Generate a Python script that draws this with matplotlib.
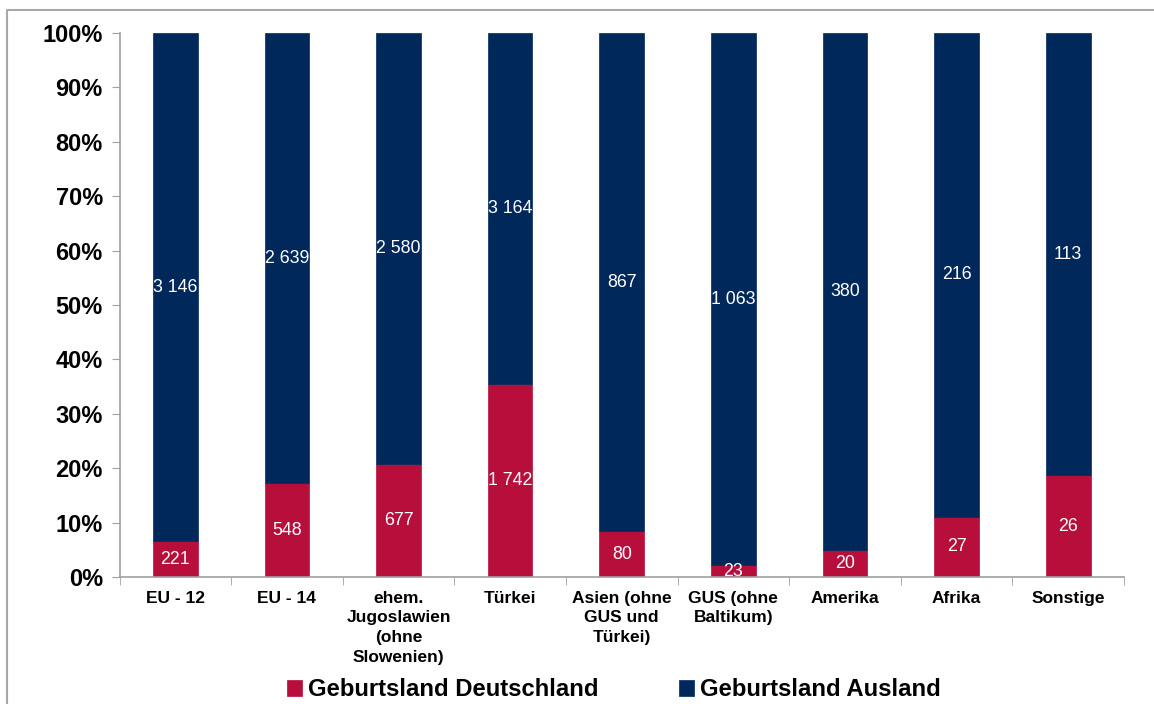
import matplotlib
matplotlib.use("Agg")
import matplotlib.pyplot as plt
import numpy as np
from matplotlib.lines import Line2D

categories = ["EU - 12", "EU - 14", "ehem.\nJugoslawien\n(ohne\nSlowenien)", "Türkei",
              "Asien (ohne\nGUS und\nTürkei)", "GUS (ohne\nBaltikum)", "Amerika", "Afrika", "Sonstige"]
deutschland = [221, 548, 677, 1742, 80, 23, 20, 27, 26]
ausland = [3146, 2639, 2580, 3164, 867, 1063, 380, 216, 113]
deutschland_labels = ["221", "548", "677", "1 742", "80", "23", "20", "27", "26"]
ausland_labels = ["3 146", "2 639", "2 580", "3 164", "867", "1 063", "380", "216", "113"]
series_names = ["Geburtsland Deutschland", "Geburtsland Ausland"]

red = "#B70E3B"
navy = "#00285A"

plt.rcParams['font.family'] = ['Liberation Sans', 'DejaVu Sans']

fig = plt.figure(figsize=(11.54, 7.04), dpi=100)
ax = fig.add_axes([119.5/1154, 1-577/704, (1124-119.5)/1154, (577-33)/704])

d = np.array(deutschland, float)
a = np.array(ausland, float)
tot = d + a
dp = d / tot
ap = a / tot
x = np.arange(len(categories))
w = 0.4
ax.bar(x, dp, w, color=red, label=series_names[0], edgecolor=red, linewidth=0.5)
ax.bar(x, ap, w, bottom=dp, color=navy, label=series_names[1], edgecolor=navy, linewidth=0.5)

for i in range(len(x)):
    ax.text(x[i], dp[i]/2, deutschland_labels[i], ha='center', va='center', color='white', fontsize=12.8)
    ax.text(x[i], dp[i] + ap[i]/2, ausland_labels[i], ha='center', va='center', color='white', fontsize=12.8)

ax.set_xlim(-0.5, len(x)-0.5)
ax.set_ylim(0, 1)
ax.set_yticks(np.arange(0, 1.01, 0.1))
ax.set_yticklabels([f"{int(round(v*100))}%" for v in np.arange(0, 1.01, 0.1)], fontsize=17, fontweight='bold')
ax.set_xticks(x)
ax.set_xticklabels(categories, fontsize=12.5, fontweight='bold', va='top', linespacing=1.38)
ax.set_xticks(np.arange(-0.5, len(x), 1), minor=True)
ax.tick_params(axis='x', which='major', length=0, pad=10)
ax.tick_params(axis='x', which='minor', length=6, color='#A0A0A0', direction='out')
ax.tick_params(axis='y', length=6, color='#A0A0A0', direction='out', pad=6)
for s in ['top', 'right']:
    ax.spines[s].set_visible(False)
for s in ['left', 'bottom']:
    ax.spines[s].set_color('#A0A0A0')
    ax.spines[s].set_linewidth(1.2)

leg = fig.legend(loc='center', bbox_to_anchor=(614/1154, 1-690/704), ncol=2, frameon=False,
                 prop={'size': 17.2, 'weight': 'bold'}, handlelength=0.6, handleheight=0.6,
                 handletextpad=0.25, columnspacing=3.4)

fig.add_artist(Line2D([7/1154, 7/1154, 1.0], [0.0, 1-9.5/704, 1-9.5/704], transform=fig.transFigure,
                      color='#A8A8A8', linewidth=1.5))

fig.savefig("out.png", dpi=100)
